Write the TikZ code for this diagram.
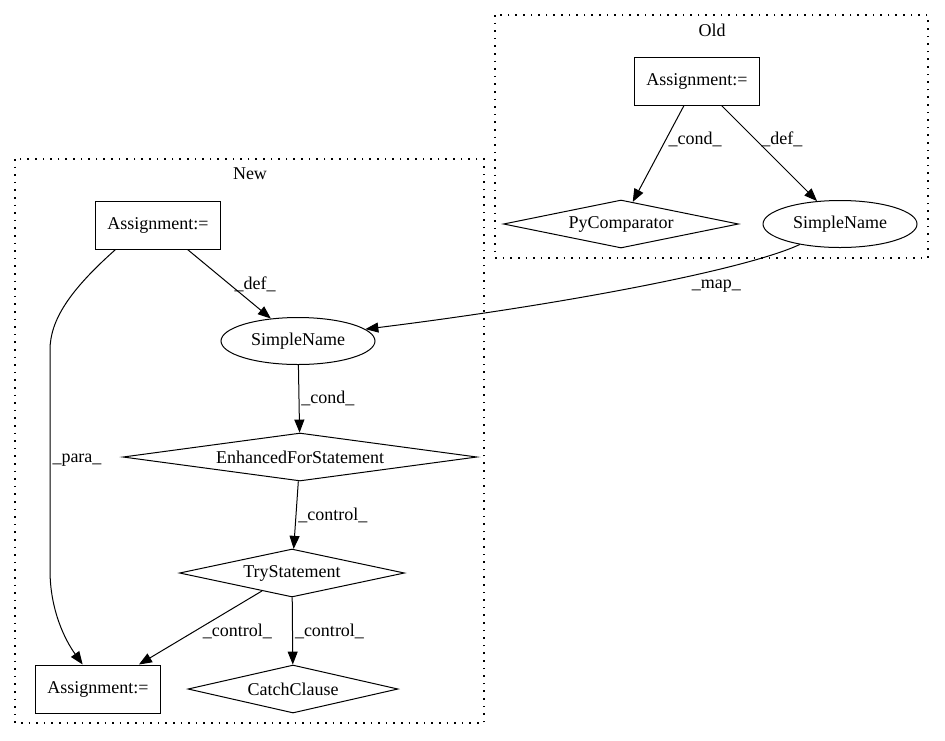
\documentclass[tikz,border=0pt]{standalone}
\usepackage{fontspec}
\setmainfont{Liberation Serif}
\usetikzlibrary{shapes.geometric,arrows.meta}

\begin{document}
\begin{tikzpicture}[x=1pt,y=-1pt,
    font=\fontsize{18}{21}\selectfont,
    box/.style={draw,line width=1pt,minimum width=125pt,minimum height=48pt,inner sep=0pt},
    oval/.style={draw,ellipse,line width=1pt,minimum width=154pt,minimum height=47pt,inner sep=0pt},
    cond/.style={draw,diamond,aspect=5,line width=1pt,minimum height=48pt,inner sep=0pt},
    edge/.style={line width=1pt,-{Triangle[length=13pt,width=10pt]}},
    cluster/.style={line width=1.2pt,dash pattern=on 1.6pt off 6pt},
    lbl/.style={inner sep=2pt}]
  \useasboundingbox (0,0) rectangle (945,740);

  % Clusters
  \draw[cluster] (495,15) rectangle (928,258);
  \node (oldtitle) at (712,30) {Old};
  \draw[cluster] (15,159) rectangle (484,723);
  \node (newtitle) at (250,174) {New};

  % Old nodes
  \node[box] (oasg) at (697,81) {Assignment:=};
  \node[cond,minimum width=235pt] (opyc) at (621,224) {PyComparator};
  \node[oval] (osn) at (840,224) {SimpleName};

  % New nodes
  \node[box] (nasg) at (158,225) {Assignment:=};
  \node[oval] (nsn) at (298,341) {SimpleName};
  \node[cond,minimum width=354pt] (nfor) at (300,457) {EnhancedForStatement};
  \node[cond,minimum width=225pt] (ntry) at (292,573) {TryStatement};
  \node[box] (nasg2) at (98,689) {Assignment:=};
  \node[cond,minimum width=210pt] (ncatch) at (293,689) {CatchClause};

  % Edges
  \draw[edge] (oasg) -- node[lbl,pos=0.35,right] {\_cond\_} (opyc);
  \draw[edge] (oasg) -- node[lbl,pos=0.35,right=4pt] {\_def\_} (osn);
  \draw[edge] (osn.207) .. controls (745,270) and (560,305) ..
    node[lbl,pos=0.2,anchor=north east,xshift=-9pt,yshift=-17pt] {\_map\_} (nsn.10);
  \draw[edge] (nasg) -- node[lbl,pos=0.5,right=3pt] {\_def\_} (nsn);
  \draw[edge] (nsn) -- node[lbl,pos=0.5,right=0pt] {\_cond\_} (nfor);
  \draw[edge] (nfor) -- node[lbl,pos=0.5,right=0pt] {\_control\_} (ntry);
  \draw[edge] (ntry) -- node[lbl,pos=0.5,right=0pt] {\_control\_} (ncatch);
  \draw[edge] (ntry) -- node[lbl,pos=0.55,right=6pt] {\_control\_} (nasg2);
  \draw[edge] (nasg.210) .. controls (70,290) and (50,320) .. (50,350)
    -- node[lbl,pos=0.5,right=0pt] {\_para\_} (50,570) .. controls (50,610) and (65,640) .. (nasg2.122);

\end{tikzpicture}
\end{document}
